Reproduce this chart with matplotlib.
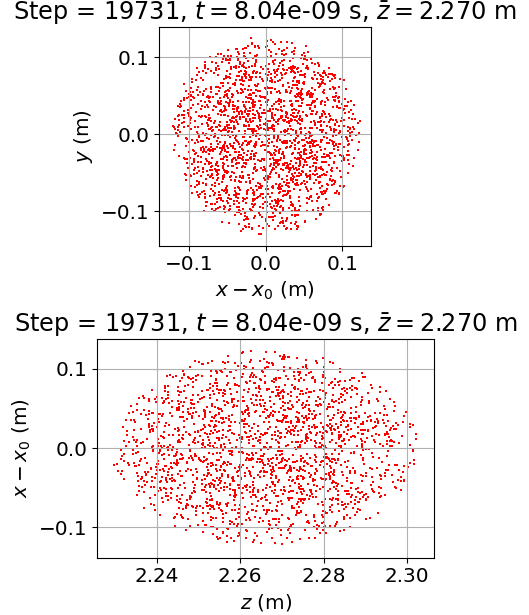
import numpy as np
import matplotlib
matplotlib.use("Agg")
import matplotlib.pyplot as plt

# --- chart values ---
step = 19731
time_s = "8.04e-09"
z_mean = 2.270
n_particles = 2000
# particle cloud extents (uniform ellipsoid beam)
x_half = 0.125      # m, half-width in x - x0
y_half = 0.130      # m, half-width in y
y_centre = -0.002   # m
z_half = 0.037      # m, half-length in z
z_centre = 2.266    # m
x_ticks = [-0.1, 0.0, 0.1]
y_ticks = [-0.1, 0.0, 0.1]
z_ticks = [2.24, 2.26, 2.28, 2.30]

# Individual particles cannot be read one by one from the picture; the cloud
# is approximated by a fixed sample filling the measured ellipsoid.
rng = np.random.default_rng(19731)
pts = rng.uniform(-1, 1, size=(n_particles * 3, 3))
pts = pts[(pts ** 2).sum(axis=1) <= 1][:n_particles]
x = pts[:, 0] * x_half
y = y_centre + pts[:, 1] * y_half
z = z_centre + pts[:, 2] * z_half

plt.rcParams['font.size'] = 14.4
title = rf"Step = {step}, $t = ${time_s} s, $\bar{{z}} = {z_mean:.3f}$ m"

fig = plt.figure(figsize=(5.29, 6.15), dpi=100)

ax1 = fig.add_axes([0.3011, 0.6005, 0.4008, 0.3556])
ax1.scatter(x, y, s=1.6, c='red', marker='s', linewidths=0)
ax1.set_xlim(-0.1388, 0.1379)
ax1.set_ylim(-0.1447, 0.1394)
ax1.set_xticks(x_ticks)
ax1.set_yticks(y_ticks)
ax1.grid(True)
ax1.set_xlabel(r"$x - x_0$ (m)")
ax1.set_ylabel(r"$y$ (m)")
ax1.set_title(title, pad=4)

ax2 = fig.add_axes([0.1839, 0.0932, 0.6365, 0.3551])
ax2.scatter(z, x, s=1.6, c='red', marker='s', linewidths=0)
ax2.set_xlim(2.22576, 2.30647)
ax2.set_ylim(-0.1384, 0.1375)
ax2.set_xticks(z_ticks)
ax2.set_yticks(x_ticks)
ax2.grid(True)
ax2.set_xlabel(r"$z$ (m)")
ax2.set_ylabel(r"$x - x_0$ (m)")
ax2.set_title(title, pad=4)

fig.savefig("out.png", dpi=100)
